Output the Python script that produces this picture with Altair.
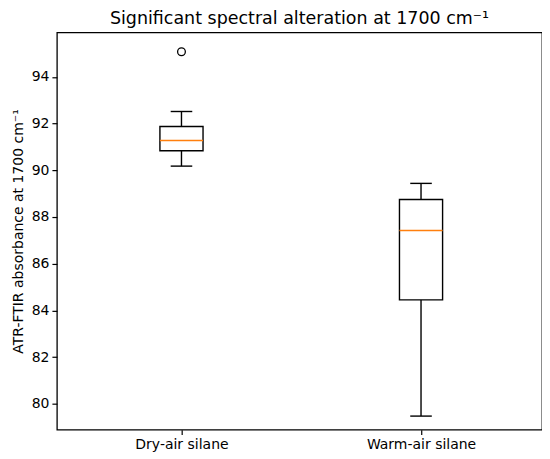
import altair as alt
import pandas as pd

groups = ["Dry-air silane", "Warm-air silane"]
positions = [1, 2]
whisker_low = [90.18, 79.47]
q1 = [90.84, 84.45]
medians = [91.28, 87.42]
q3 = [91.88, 88.75]
whisker_high = [92.52, 89.44]
outlier_pos = [1]
outlier_vals = [95.08]
y_ticks = [80, 82, 84, 86, 88, 90, 92, 94]

BOX_HALF = 0.09
CAP_HALF = 0.045

df = pd.DataFrame({
    "group": groups, "pos": positions, "lo": whisker_low, "q1": q1,
    "med": medians, "q3": q3, "hi": whisker_high,
})
df["bl"] = df["pos"] - BOX_HALF
df["br"] = df["pos"] + BOX_HALF
df["cl"] = df["pos"] - CAP_HALF
df["cr"] = df["pos"] + CAP_HALF
out_df = pd.DataFrame({"pos": outlier_pos, "val": outlier_vals})

FONT = "DejaVu Sans"
xscale = alt.Scale(domain=[0.48, 2.505], nice=False, zero=False)
yscale = alt.Scale(domain=[78.89, 95.91], nice=False, zero=False)
label_expr = "datum.value == 1 ? '%s' : (datum.value == 2 ? '%s' : '')" % (groups[0], groups[1])
xaxis = alt.Axis(values=positions, labelExpr=label_expr, title="", grid=False,
                 domain=False, tickColor="black", tickSize=5, tickWidth=1.2, labelFontSize=14,
                 labelColor="black", labelFont=FONT, labelPadding=3)
yaxis = alt.Axis(values=y_ticks, title="ATR-FTIR absorbance at 1700 cm\u207b\u00b9", grid=False,
                 domain=False, tickColor="black", tickSize=5, tickWidth=1.2, labelFontSize=14,
                 labelColor="black", labelFont=FONT, titleFont=FONT, titleFontSize=14,
                 titleFontWeight="normal", titleColor="black", labelPadding=3, titlePadding=6)

base = alt.Chart(df)

def X(f):
    return alt.X(f, type="quantitative", scale=xscale, axis=xaxis)

def Y(f):
    return alt.Y(f, type="quantitative", scale=yscale, axis=yaxis)

LW = 1.4
w_low = base.mark_rule(color="black", strokeWidth=LW).encode(x=X("pos"), y=Y("lo"), y2="q1")
w_high = base.mark_rule(color="black", strokeWidth=LW).encode(x=X("pos"), y=Y("q3"), y2="hi")
cap_low = base.mark_rule(color="black", strokeWidth=LW).encode(x=X("cl"), x2="cr", y=Y("lo"))
cap_high = base.mark_rule(color="black", strokeWidth=LW).encode(x=X("cl"), x2="cr", y=Y("hi"))
box = base.mark_rect(fill="white", stroke="black", strokeWidth=LW).encode(
    x=X("bl"), x2="br", y=Y("q1"), y2="q3")
med = base.mark_rule(color="#ff7f0e", strokeWidth=1.6).encode(x=X("bl"), x2="br", y=Y("med"))
outl = alt.Chart(out_df).mark_point(shape="circle", filled=False, stroke="black",
                                    strokeWidth=1.3, size=60, opacity=1).encode(x=X("pos"), y=Y("val"))

chart = alt.layer(w_low, w_high, cap_low, cap_high, box, med, outl).properties(
    width=486, height=398,
    background="white",
    autosize=alt.AutoSizeParams(type="none"),
    padding={"left": 49, "top": 24, "right": 0, "bottom": 26},
    title=alt.TitleParams("Significant spectral alteration at 1700 cm\u207b\u00b9",
                          font=FONT, fontSize=17.5, fontWeight="normal", color="black", offset=5),
).configure_view(stroke="black", strokeWidth=1.3)

chart.save("out.html", embed_options={"renderer": "svg", "actions": False})
